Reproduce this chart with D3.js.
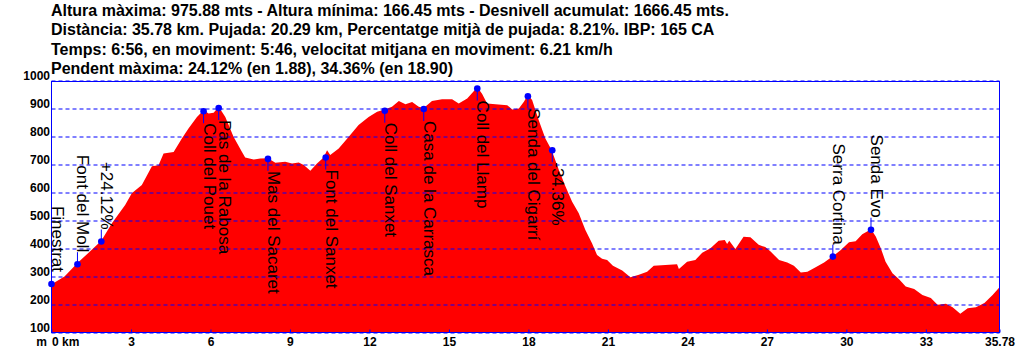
<!DOCTYPE html>
<html>
<head>
<meta charset="utf-8">
<script src="https://d3js.org/d3.v7.min.js"></script>
<style>
  body { margin: 0; background: #fff; }
  svg { display: block; font-family: Arial, "Liberation Sans", sans-serif; }
</style>
</head>
<body>
<div id="perfil"></div>
<script>
// Summary lines printed over the chart
var headerLines = [
  "Altura màxima: 975.88 mts - Altura mínima: 166.45 mts - Desnivell acumulat: 1666.45 mts.",
  "Distància: 35.78 km. Pujada: 20.29 km, Percentatge mitjà de pujada: 8.21%. IBP: 165 CA",
  "Temps: 6:56, en moviment: 5:46, velocitat mitjana en moviment: 6.21 km/h",
  "Pendent màxima: 24.12% (en 1.88), 34.36% (en 18.90)"
];

// Elevation profile: distance (km) and altitude (m)
var profileDist = [0, 0.10, 0.49, 0.98, 1.40, 1.88, 2.28, 2.78, 3.03, 3.41, 3.79, 4.04, 4.23, 4.61, 4.92,
  5.17, 5.49, 5.74, 5.93, 6.12, 6.31, 6.56, 6.87, 7.19, 7.31, 7.63, 7.88, 8.17, 8.45, 8.82, 9.08, 9.33,
  9.52, 9.77, 10.02, 10.27, 10.40, 10.52, 10.84, 11.22, 11.59, 11.97, 12.29, 12.58, 12.85, 13.11, 13.36,
  13.61, 13.86, 14.05, 14.36, 14.74, 15.12, 15.37, 15.69, 15.91, 16.07, 16.25, 16.44, 16.76, 17.20,
  17.39, 17.64, 17.83, 17.98, 18.14, 18.39, 18.64, 18.87, 19.15, 19.40, 19.65, 19.90, 20.15, 20.40,
  20.59, 20.78, 20.97, 21.19, 21.54, 21.85, 22.17, 22.48, 22.73, 23.17, 23.61, 23.68, 23.99, 24.30,
  24.56, 24.87, 25.18, 25.41, 25.50, 25.58, 25.81, 26.12, 26.38, 26.69, 26.94, 27.14, 27.46, 27.77,
  28.02, 28.28, 28.53, 28.84, 29.16, 29.50, 29.78, 30.10, 30.35, 30.60, 30.85, 30.93, 31.11, 31.30,
  31.48, 31.74, 31.99, 32.24, 32.56, 32.87, 33.19, 33.44, 33.76, 34.01, 34.30, 34.58, 34.89, 35.21,
  35.52, 35.78];
var profileElev = [272, 278, 300, 348, 385, 428, 490, 555, 597, 627, 694, 697, 739, 745, 793,
  829, 870, 894, 882, 885, 906, 870, 799, 745, 725, 718, 721, 722, 706, 710, 704, 707,
  698, 678, 704, 725, 751, 734, 757, 799, 841, 870, 888, 896, 906, 927, 915,
  923, 906, 902, 927, 933, 933, 918, 936, 959, 976, 953, 918, 915, 912,
  896, 900, 924, 948, 930, 858, 793, 753, 680, 621, 567, 526, 466, 419,
  377, 363, 359, 338, 321, 297, 306, 317, 338, 341, 344, 327, 353, 359,
  385, 401, 428, 430, 416, 428, 398, 442, 440, 413, 405, 389, 359, 350,
  338, 314, 317, 333, 350, 373, 394, 422, 426, 451, 464, 469, 443, 401,
  353, 312, 290, 264, 255, 234, 223, 199, 203, 190, 167, 187, 190, 205,
  234, 262];

// Waypoints along the track
var wayNames = ["Finestrat", "Font del Moll", "+24.12%", "Coll del Pouet", "Pas de la Rabosa",
  "Mas del Sacaret", "Font del Sanxet", "Coll del Sanxet", "Casa de la Carrasca", "Coll del Llamp",
  "Senda del Cigarrí", "-34.36%", "Serra Cortina", "Senda Evo"];
var wayDist = [0, 0.98, 1.88, 5.74, 6.31, 8.17, 10.35, 12.58, 14.05, 16.07, 17.98, 18.90, 29.49, 30.93];
var wayElev = [273, 344, 425, 890, 902, 720, 725, 892, 898, 971, 944, 751, 371, 467];

// Axis ticks
var yTicks = [100, 200, 300, 400, 500, 600, 700, 800, 900, 1000];
var xTicks = [0, 3, 6, 9, 12, 15, 18, 21, 24, 27, 30, 33, 35.78];

var width = 1024, height = 350;
var blue = "#0000ff";

var svg = d3.select("#perfil").append("svg")
    .attr("width", width)
    .attr("height", height);

var x = d3.scaleLinear().domain([0, 35.78]).range([51.5, 999.5]);
var y = d3.scaleLinear().domain([100, 1000]).range([332.5, 80.5]);

// header text
svg.append("g").selectAll("text")
  .data(headerLines)
  .enter().append("text")
    .attr("x", 51)
    .attr("y", function(d, i) { return 16 + i * 19.4; })
    .style("font-size", "16px")
    .style("font-weight", "bold")
    .style("fill", "#000")
    .text(function(d) { return d; });

// red filled profile
var profile = profileDist.map(function(d, i) { return {dist: d, elev: profileElev[i]}; });
var area = d3.area()
    .x(function(d) { return x(d.dist); })
    .y0(y(100))
    .y1(function(d) { return y(d.elev); });
svg.append("path")
    .datum(profile)
    .attr("d", area)
    .style("fill", "#ff0000");

// dashed grid + altitude labels
var plotW = x.range()[1] - x.range()[0];
var gy = svg.append("g")
    .attr("transform", "translate(" + x.range()[0] + ",0)")
    .call(d3.axisLeft(y).tickValues(yTicks).tickSize(-plotW).tickPadding(1.5)
      .tickFormat(d3.format("d")));
gy.select(".domain").remove();
gy.selectAll(".tick line")
    .style("stroke", blue)
    .style("stroke-dasharray", "4,3");
gy.selectAll(".tick text")
    .attr("dy", "-1")
    .style("font-size", "12px")
    .style("font-weight", "bold")
    .style("fill", "#000");

// distance axis
var gx = svg.append("g")
    .attr("transform", "translate(0," + y(100) + ")")
    .call(d3.axisBottom(x).tickValues(xTicks).tickSizeInner(-3).tickSizeOuter(0).tickPadding(5)
      .tickFormat(function(d) { return d === 0 ? "0 km" : (d % 1 ? d3.format(".2f")(d) : d); }));
gx.select(".domain").remove();
gx.selectAll(".tick line").style("stroke", blue);
gx.selectAll(".tick text")
    .style("font-size", "12px")
    .style("font-weight", "bold")
    .style("fill", "#000")
    .style("text-anchor", function(d) { return d === 0 ? "start" : "middle"; });

svg.append("text")
    .attr("x", 47)
    .attr("y", y(100) + 13.5)
    .style("font-size", "12px")
    .style("font-weight", "bold")
    .style("text-anchor", "end")
    .text("m");

// frame
svg.append("rect")
    .attr("x", x.range()[0])
    .attr("y", y(1000) + 1)
    .attr("width", plotW)
    .attr("height", y(100) - y(1000) - 1)
    .style("fill", "none")
    .style("stroke", blue);

// waypoints: marker, stem and rotated name
var ways = wayNames.map(function(n, i) {
  return {name: n, dist: wayDist[i], elev: wayElev[i], below: wayElev[i] > 600};
});
var wp = svg.append("g").selectAll("g")
  .data(ways)
  .enter().append("g");

wp.append("line")
    .attr("x1", function(d) { return x(d.dist); })
    .attr("x2", function(d) { return x(d.dist); })
    .attr("y1", function(d) { return y(d.elev); })
    .attr("y2", function(d) { return y(d.elev) + (d.below ? 12 : -12); })
    .style("stroke", blue);

wp.append("circle")
    .attr("cx", function(d) { return x(d.dist); })
    .attr("cy", function(d) { return y(d.elev); })
    .attr("r", 3.3)
    .style("fill", blue);

wp.append("text")
    .attr("transform", function(d) {
      var ty = y(d.elev) + (d.below ? 12 : -12);
      return "translate(" + x(d.dist) + "," + ty + ") rotate(90)";
    })
    .style("font-size", "17px")
    .style("fill", "#000")
    .style("text-anchor", function(d) { return d.below ? "start" : "end"; })
    .text(function(d) { return d.name; });
</script>
</body>
</html>
